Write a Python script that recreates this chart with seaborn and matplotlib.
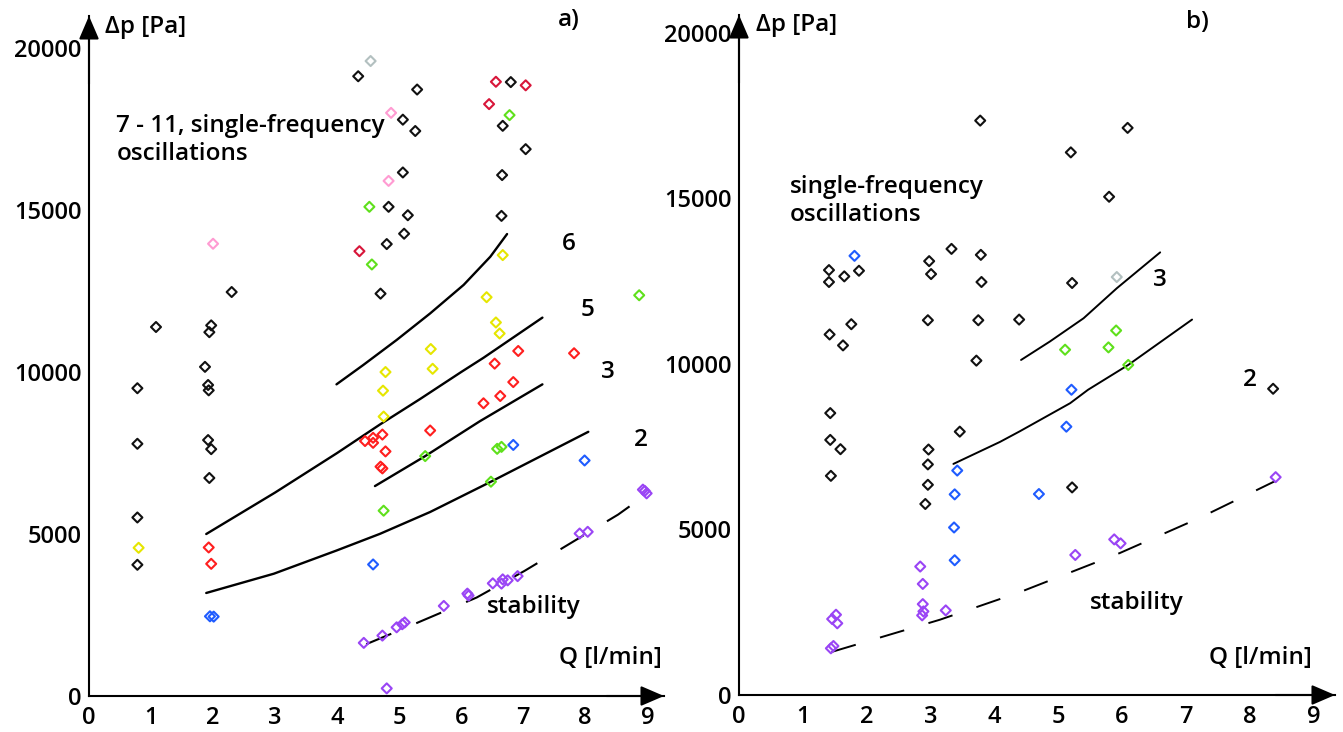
import pandas as pd
import matplotlib
matplotlib.use("Agg")
import matplotlib.pyplot as plt
import seaborn as sns

# ---- panel a) measured points (Q [l/min], dp [Pa]) by marker colour
a_black = [(4.34, 19130), (5.29, 18720), (5.06, 17790), (5.26, 17440), (5.06, 16160),
           (4.83, 15100), (5.14, 14840), (5.08, 14270), (4.80, 13950), (4.70, 12420),
           (2.30, 12470), (1.08, 11390), (1.97, 11440), (1.94, 11230), (1.87, 10160),
           (6.80, 18950), (6.67, 17600), (7.04, 16880), (6.66, 16080), (6.65, 14820),
           (0.78, 9500), (0.78, 7785), (0.78, 5510), (0.78, 4050), (1.92, 9600),
           (1.93, 9435), (1.92, 7900), (1.97, 7620), (1.94, 6730)]
a_gray = [(4.54, 19600)]
a_pink = [(4.87, 18000), (4.83, 15900), (2.00, 13960)]
a_green = [(4.52, 15100), (4.56, 13320), (6.78, 17930), (8.87, 12370), (4.75, 5720),
           (5.42, 7405), (6.58, 7630), (6.65, 7690), (6.48, 6615)]
a_crimson = [(4.36, 13730), (6.56, 18960), (7.04, 18850), (6.45, 18270)]
a_red = [(6.92, 10650), (7.82, 10580), (6.54, 10260), (4.73, 8070), (4.58, 7970),
         (4.45, 7870), (4.58, 7815), (4.78, 7550), (4.70, 7080), (4.73, 7025),
         (1.93, 4585), (1.97, 4080), (6.84, 9690), (6.63, 9260), (6.36, 9035), (5.50, 8195)]
a_yellow = [(6.67, 13610), (6.41, 12310), (6.56, 11530), (6.62, 11190), (5.51, 10710),
            (5.54, 10100), (4.78, 10000), (4.74, 9425), (4.75, 8625), (0.80, 4575)]
a_blue = [(4.58, 4060), (1.95, 2460), (2.01, 2450), (6.84, 7750), (7.99, 7270)]
a_purple = [(4.43, 1640), (4.73, 1865), (4.96, 2120), (5.05, 2215), (5.09, 2270),
            (4.80, 235), (5.72, 2780), (6.10, 3160), (6.12, 3100), (6.51, 3477),
            (6.65, 3470), (6.67, 3600), (6.75, 3570), (6.91, 3700), (7.91, 5015),
            (8.04, 5068), (8.93, 6370), (8.99, 6255), (8.96, 6330)]

# panel a) boundary curves
a_curve6 = [(3.99, 9620), (4.42, 10215), (4.96, 10990), (5.50, 11810), (6.04, 12690),
            (6.47, 13560), (6.74, 14260)]
a_curve5 = [(1.89, 5000), (3.0, 6280), (4.0, 7500), (4.69, 8380), (5.34, 9170),
            (6.0, 10000), (6.36, 10440), (7.31, 11680)]
a_curve3 = [(4.61, 6480), (5.42, 7405), (6.30, 8480), (7.31, 9620)]
a_curve2 = [(1.89, 3180), (2.98, 3775), (3.99, 4490), (4.69, 5005), (5.50, 5680),
            (6.48, 6615), (8.05, 8155)]
a_stab = [(4.47, 1600), (5.01, 2030), (6.25, 3040), (7.02, 3860), (8.53, 5600), (9.07, 6340)]

# ---- panel b) measured points
b_black = [(3.78, 17350), (3.33, 13475), (2.98, 13105), (3.79, 13295), (1.41, 12835),
           (1.88, 12815), (1.65, 12645), (3.01, 12715), (1.41, 12475), (3.80, 12475),
           (1.76, 11200), (2.96, 11320), (3.75, 11320), (4.39, 11340), (1.42, 10890),
           (1.63, 10560), (3.72, 10100), (6.09, 17130), (5.20, 16390), (5.80, 15050),
           (5.22, 12445), (8.37, 9250), (1.43, 8515), (1.43, 7705), (1.59, 7425),
           (1.44, 6620), (3.46, 7955), (2.97, 7415), (2.96, 6965), (2.96, 6350),
           (2.92, 5770), (5.22, 6270)]
b_gray = [(5.92, 12625)]
b_blue = [(1.81, 13265), (5.21, 9220), (3.42, 6780), (3.38, 6060), (3.37, 5060),
          (3.38, 4070), (5.13, 8105), (4.70, 6070)]
b_green = [(5.91, 11010), (5.11, 10430), (5.79, 10500), (6.10, 9970)]
b_purple = [(2.84, 3880), (2.88, 3355), (2.88, 2745), (2.89, 2525), (2.87, 2405),
            (3.24, 2555), (1.52, 2425), (1.46, 2295), (1.54, 2165), (1.48, 1480),
            (1.44, 1410), (8.41, 6580), (5.88, 4700), (5.98, 4580), (5.27, 4230)]

b_curve3 = [(4.42, 10120), (4.87, 10675), (5.40, 11380), (5.92, 12285), (6.60, 13370)]
b_curve2 = [(3.36, 6980), (4.09, 7645), (4.40, 7965), (5.19, 8815), (5.47, 9220),
            (6.10, 9970), (7.10, 11340)]
b_stab = [(1.45, 1300), (3.15, 2275), (4.40, 3105), (5.97, 4290), (7.23, 5360), (8.40, 6460)]

colors = {"black": "#111111", "gray": "#b3c0c0", "pink": "#ff9bd2", "green": "#5fe01c",
          "crimson": "#d8163a", "red": "#ff1f1f", "yellow": "#e6e600",
          "blue": "#1f5cff", "purple": "#9a45f5"}


def to_frame(groups):
    rows = []
    for name, pts in groups.items():
        for q, dp in pts:
            rows.append({"Q": q, "dp": dp, "kind": name})
    return pd.DataFrame(rows)


def draw_curve(ax, pts, dashed=False, lw=1.6):
    df = pd.DataFrame(pts, columns=["Q", "dp"])
    sns.lineplot(data=df, x="Q", y="dp", ax=ax, color="black", lw=lw,
                 estimator=None, sort=False, legend=False)
    if dashed:
        ax.lines[-1].set_dashes((13, 13))


def setup_axis(ax, xmax, ymax):
    ax.set_xlim(0, xmax)
    ax.set_ylim(0, ymax)
    for s in ["top", "right"]:
        ax.spines[s].set_visible(False)
    for s in ["left", "bottom"]:
        ax.spines[s].set_linewidth(1.5)
        ax.spines[s].set_color("black")
    ax.set_xticks(range(0, 10))
    ax.set_yticks([0, 5000, 10000, 15000, 20000])
    ax.tick_params(axis="both", direction="out", length=5, width=1.3, labelsize=17,
                   color="black", labelcolor="black")
    ax.tick_params(axis="y", pad=0.5)
    ax.tick_params(axis="x", pad=2)
    for lab in ax.get_xticklabels() + ax.get_yticklabels():
        lab.set_fontweight("semibold")
    ax.set_xlabel("")
    ax.set_ylabel("")
    arrow = dict(arrowstyle="-|>,head_length=0.65,head_width=0.28", lw=1.5,
                 color="black", mutation_scale=22, shrinkA=0, shrinkB=0)
    ax.annotate("", xy=(0, 1), xytext=(0, 0.9), xycoords="axes fraction", arrowprops=arrow)
    ax.annotate("", xy=(1, 0), xytext=(0.9, 0), xycoords="axes fraction", arrowprops=arrow)


def scatter(ax, df):
    sns.scatterplot(data=df, x="Q", y="dp", hue="kind", palette=colors, marker="D",
                    s=26, linewidth=1.5, ax=ax, legend=False, zorder=3)
    coll = ax.collections[-1]
    fc = coll.get_facecolors()
    coll.set_edgecolors(fc)
    coll.set_facecolors("none")


sns.set_style("white")
plt.rcParams["font.family"] = ["Open Sans", "DejaVu Sans"]
plt.rcParams["text.color"] = "black"

fig = plt.figure(figsize=(13.43, 7.32), dpi=100)
ax1 = fig.add_axes([89 / 1343, 36 / 732, 575 / 1343, 680 / 732])
ax2 = fig.add_axes([739 / 1343, 37 / 732, 596 / 1343, 680 / 732])

fs = 17.5
tw = "semibold"

# panel a
scatter(ax1, to_frame({"black": a_black, "gray": a_gray, "pink": a_pink, "green": a_green,
                       "crimson": a_crimson, "red": a_red, "yellow": a_yellow,
                       "blue": a_blue, "purple": a_purple}))
for c in [a_curve6, a_curve5, a_curve3, a_curve2]:
    draw_curve(ax1, c, lw=1.7)
draw_curve(ax1, a_stab, dashed=True, lw=1.5)
setup_axis(ax1, 9.27, 20990)

ax1.text(0.26, 20650, "Δp [Pa]", fontsize=fs, weight=tw, va="center", ha="left")
ax1.text(7.74, 20860, "a)", fontsize=fs, weight=tw, va="center", ha="center")
ax1.text(0.44, 17160, "7 - 11, single-frequency\noscillations", fontsize=fs, weight=tw,
         va="center", ha="left", linespacing=1.2)
ax1.text(7.73, 13950, "6", fontsize=fs, weight=tw, va="center", ha="center")
ax1.text(8.03, 11910, "5", fontsize=fs, weight=tw, va="center", ha="center")
ax1.text(8.37, 10000, "3", fontsize=fs, weight=tw, va="center", ha="center")
ax1.text(8.89, 7900, "2", fontsize=fs, weight=tw, va="center", ha="center")
ax1.text(6.42, 2750, "stability", fontsize=fs, weight=tw, va="center", ha="left")
ax1.text(9.24, 1170, "Q [l/min]", fontsize=fs, weight=tw, va="center", ha="right")

# panel b
scatter(ax2, to_frame({"black": b_black, "gray": b_gray, "blue": b_blue,
                       "green": b_green, "purple": b_purple}))
for c in [b_curve3, b_curve2]:
    draw_curve(ax2, c, lw=1.4)
draw_curve(ax2, b_stab, dashed=True, lw=1.4)
setup_axis(ax2, 9.34, 20540)

ax2.text(0.27, 20240, "Δp [Pa]", fontsize=fs, weight=tw, va="center", ha="left")
ax2.text(7.18, 20330, "b)", fontsize=fs, weight=tw, va="center", ha="center")
ax2.text(0.80, 14920, "single-frequency\noscillations", fontsize=fs, weight=tw,
         va="center", ha="left", linespacing=1.2)
ax2.text(6.60, 12540, "3", fontsize=fs, weight=tw, va="center", ha="center")
ax2.text(8.01, 9520, "2", fontsize=fs, weight=tw, va="center", ha="center")
ax2.text(5.50, 2780, "stability", fontsize=fs, weight=tw, va="center", ha="left")
ax2.text(8.98, 1120, "Q [l/min]", fontsize=fs, weight=tw, va="center", ha="right")

fig.savefig("out.png", dpi=100)
